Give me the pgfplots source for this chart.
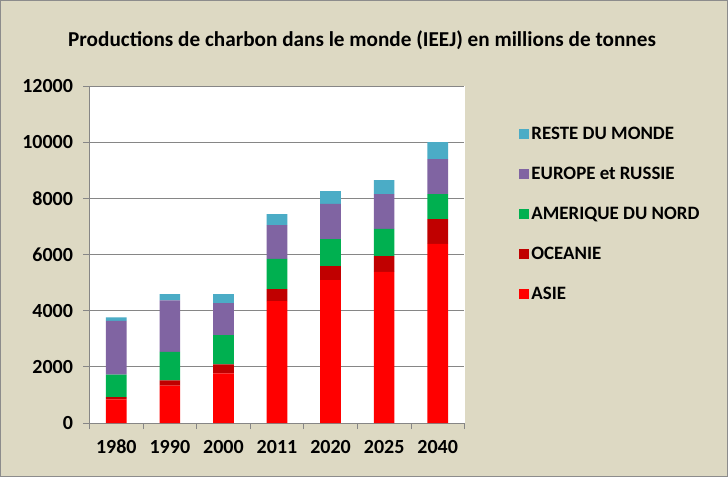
\documentclass[border=0pt]{standalone}
\usepackage{pgfplots}
\pgfplotsset{compat=1.18}
\usepackage{fontspec}
\setmainfont{Carlito}
\definecolor{tanbg}{HTML}{DDD9C3}
\definecolor{asie}{HTML}{FF0000}
\definecolor{oceanie}{HTML}{C00000}
\definecolor{amerique}{HTML}{00B050}
\definecolor{europe}{HTML}{8064A2}
\definecolor{reste}{HTML}{4BACC6}
\definecolor{gridc}{HTML}{868686}
\begin{document}
\begin{tikzpicture}
\useasboundingbox (0pt,0pt) rectangle (728pt,477pt);
\fill[tanbg] (0pt,0pt) rectangle (728pt,477pt);
\draw[gray!90, line width=1.2pt] (0.6pt,0.6pt) rectangle (727.4pt,476.4pt);
\fill[white] (89.5pt,54pt) rectangle (464.5pt,391pt);
\node[font=\fontsize{21.2}{24}\selectfont\bfseries] at (362pt,437pt) {Productions de charbon dans le monde (IEEJ) en millions de tonnes};
\begin{axis}[
  at={(89.5pt,54pt)}, anchor=south west,
  scale only axis, width=375pt, height=337pt,
  ybar stacked, bar width=20.7pt,
  xmin=-0.5, xmax=6.5, ymin=0, ymax=12000,
  xtick={0,...,6},
  xticklabels={1980,1990,2000,2011,2020,2025,2040},
  minor xtick={-0.5,0.5,...,6.5},
  ytick={0,2000,...,12000},
  major x tick style={draw=none},
  tick align=outside,
  major tick length=6pt, minor tick length=6pt,
  every tick/.style={gridc, line width=0.8pt},
  axis x line*=bottom, axis y line*=left,
  axis line style={gridc, line width=0.8pt, -},
  ymajorgrids, grid style={gridc, line width=0.8pt},
  scaled y ticks=false,
  yticklabel style={/pgf/number format/1000 sep={}},
  /pgf/number format/assume math mode=true,
  ticklabel style={font=\fontsize{20}{22}\selectfont\bfseries},
  xticklabel style={yshift=-8pt, anchor=north, text height=13pt, text depth=0pt},
  yticklabel style={xshift=-7pt},
  reverse legend,
  legend cell align=left,
  legend style={at={(1.138,0.89)}, anchor=north west, draw=none, fill=none,
    font=\fontsize{18.9}{21}\selectfont\bfseries, row sep=22pt},
  legend image code/.code={\fill[#1, draw=none] (0pt,-5pt) rectangle (10pt,5pt);},
  every axis plot/.append style={draw=none},
]
\addplot[fill=asie] coordinates {(0,845) (1,1330) (2,1770) (3,4340) (4,5090) (5,5380) (6,6380)};
\addplot[fill=oceanie] coordinates {(0,80) (1,190) (2,320) (3,430) (4,500) (5,560) (6,880)};
\addplot[fill=amerique] coordinates {(0,800) (1,1010) (2,1035) (3,1070) (4,960) (5,975) (6,890)};
\addplot[fill=europe] coordinates {(0,1910) (1,1840) (2,1140) (3,1210) (4,1250) (5,1235) (6,1250)};
\addplot[fill=reste] coordinates {(0,130) (1,215) (2,320) (3,390) (4,460) (5,500) (6,600)};
\legend{ASIE,OCEANIE,AMERIQUE DU NORD,EUROPE et RUSSIE,RESTE DU MONDE}
\end{axis}
\end{tikzpicture}
\end{document}
